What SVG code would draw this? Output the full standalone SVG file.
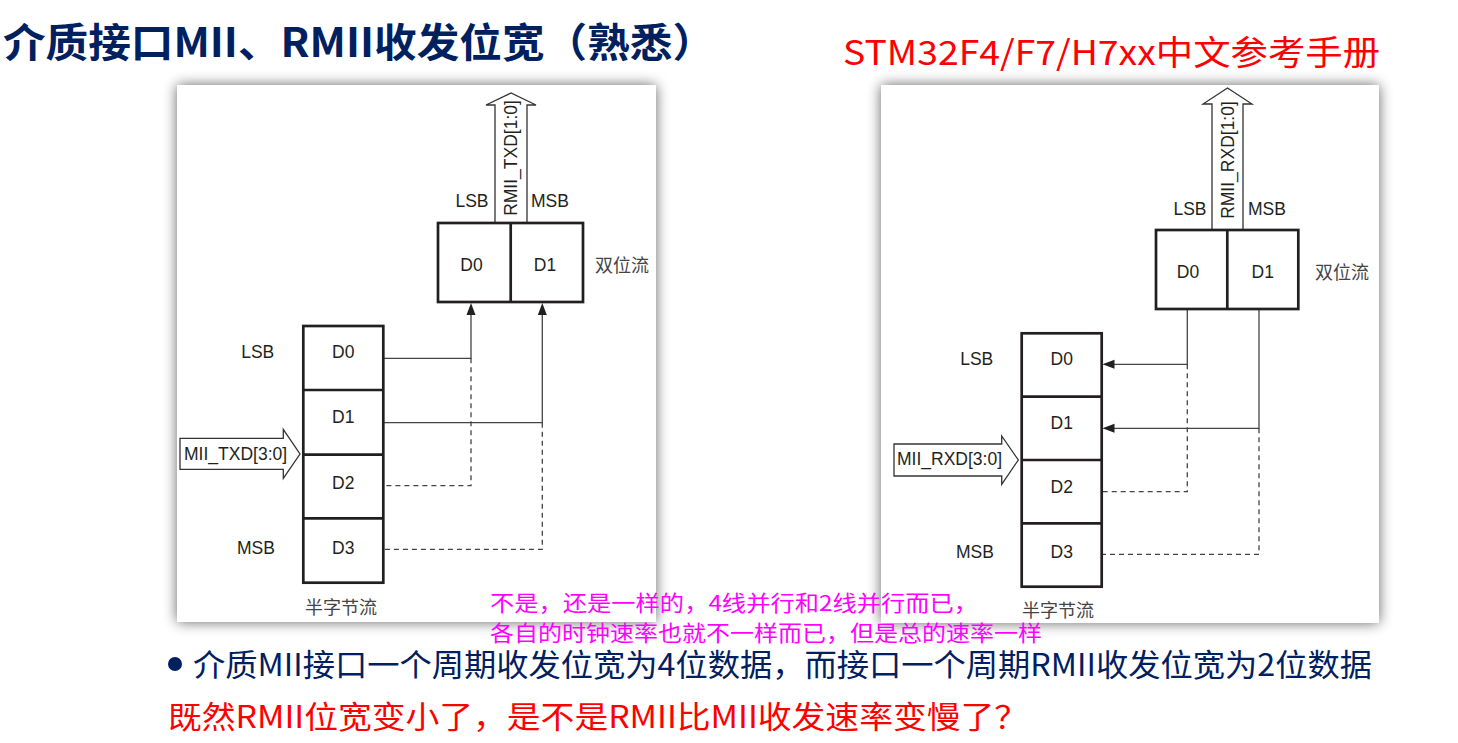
<svg xmlns="http://www.w3.org/2000/svg" width="1458" height="743" viewBox="0 0 1458 743">
<defs>
<filter id="sh" x="-10%" y="-10%" width="120%" height="120%"><feGaussianBlur stdDeviation="7"/></filter>
<style>
.t{font-family:"Liberation Sans",Arial,sans-serif;font-size:17.5px;fill:#231f20}
.m{text-anchor:middle}
.cn{font-family:"Noto Sans CJK SC",sans-serif;font-size:18px;fill:#444}
.box{fill:none;stroke:#231f20;stroke-width:2.7}
.ln{fill:none;stroke:#444;stroke-width:1.3}
.dash{fill:none;stroke:#444;stroke-width:1.3;stroke-dasharray:5 4}
.hollow{fill:#fff;stroke:#333;stroke-width:1.3}
.ah{fill:#231f20}
.pk{font-family:"Noto Sans CJK SC",sans-serif;font-size:21.5px;fill:#ff00ff}
</style>
</defs>
<rect width="1458" height="743" fill="#fff"/>
<g id="panels">
<rect x="177" y="85" width="479" height="537" fill="#000" opacity="0.6" filter="url(#sh)"/>
<rect x="177" y="85" width="479" height="537" fill="#fff"/>
<rect x="881" y="85" width="498" height="538" fill="#000" opacity="0.6" filter="url(#sh)"/>
<rect x="881" y="85" width="498" height="538" fill="#fff"/>
</g>
<g id="title">
<text x="3" y="57" font-family="'Noto Sans CJK SC',sans-serif" font-weight="bold" font-size="40" fill="#002060" textLength="712" lengthAdjust="spacingAndGlyphs">介质接口MII、RMII收发位宽（熟悉）</text>
</g>
<g id="ref-title">
<text x="843" y="65" font-family="'Noto Sans CJK SC',sans-serif" font-size="34" fill="#ff0000" textLength="537" lengthAdjust="spacingAndGlyphs">STM32F4/F7/H7xx中文参考手册</text>
</g>
<g id="connectors">
<polyline class="ln" points="383.3,358.3 471,358.3 471,312"/>
<polygon class="ah" points="471,303 466.5,315 475.5,315"/>
<polyline class="dash" points="471,358.3 471,485.7 383.3,485.7"/>
<polyline class="ln" points="383.3,422.7 542.3,422.7 542.3,312"/>
<polygon class="ah" points="542.3,303 537.8,315 546.8,315"/>
<polyline class="dash" points="542.3,422.7 542.3,549.3 383.3,549.3"/>
<polyline class="ln" points="1187.3,309 1187.3,364.3 1112,364.3"/>
<polygon class="ah" points="1102.5,364.3 1114.5,359.8 1114.5,368.8"/>
<polyline class="dash" points="1187.3,364.3 1187.3,491.7 1101.7,491.7"/>
<polyline class="ln" points="1259,309 1259,428.3 1112,428.3"/>
<polygon class="ah" points="1102.5,428.3 1114.5,423.8 1114.5,432.8"/>
<polyline class="dash" points="1259,428.3 1259,554.3 1101.7,554.3"/>
</g>
<g id="rmii-txd">
<polygon class="hollow" points="495,223 495,105 486,105 511,93 536,105 527,105 527,223"/>
<text class="t m" transform="translate(517,158) rotate(-90)">RMII_TXD[1:0]</text>
<text class="t m" x="472" y="207">LSB</text>
<text class="t m" x="550" y="207">MSB</text>
</g>
<g id="tx-dibit">
<rect class="box" x="438" y="223" width="145" height="79"/>
<line class="box" x1="510.7" y1="223" x2="510.7" y2="302"/>
<text class="t m" x="471.5" y="271">D0</text>
<text class="t m" x="545" y="271">D1</text>
<text class="cn" x="595" y="272">双位流</text>
</g>
<g id="tx-nibble">
<rect class="box" x="303.3" y="326" width="80" height="256.7"/>
<line class="box" x1="303.3" y1="390" x2="383.3" y2="390"/>
<line class="box" x1="303.3" y1="454.7" x2="383.3" y2="454.7"/>
<line class="box" x1="303.3" y1="518.3" x2="383.3" y2="518.3"/>
<text class="t m" x="343.3" y="358">D0</text>
<text class="t m" x="343.3" y="422.7">D1</text>
<text class="t m" x="343.3" y="489">D2</text>
<text class="t m" x="343.3" y="554">D3</text>
<text class="t m" x="257.7" y="358">LSB</text>
<text class="t m" x="256" y="554">MSB</text>
<text class="cn m" x="341" y="614">半字节流</text>
</g>
<g id="mii-txd">
<polygon class="hollow" points="180,438.3 283.3,438.3 283.3,429.3 300,454 283.3,478.3 283.3,469.3 180,469.3"/>
<text class="t" x="184" y="460">MII_TXD[3:0]</text>
</g>
<g id="rmii-rxd">
<polygon class="hollow" points="1212,230 1212,104 1203,104 1227.5,88 1252,104 1243,104 1243,230"/>
<text class="t m" transform="translate(1234,160) rotate(-90)">RMII_RXD[1:0]</text>
<text class="t m" x="1190" y="215">LSB</text>
<text class="t m" x="1267" y="215">MSB</text>
</g>
<g id="rx-dibit">
<rect class="box" x="1156" y="230" width="142.3" height="79"/>
<line class="box" x1="1227.3" y1="230" x2="1227.3" y2="309"/>
<text class="t m" x="1188" y="278">D0</text>
<text class="t m" x="1262.7" y="278">D1</text>
<text class="cn" x="1315" y="279">双位流</text>
</g>
<g id="rx-nibble">
<rect class="box" x="1021.7" y="333.3" width="80" height="253.4"/>
<line class="box" x1="1021.7" y1="396.7" x2="1101.7" y2="396.7"/>
<line class="box" x1="1021.7" y1="460" x2="1101.7" y2="460"/>
<line class="box" x1="1021.7" y1="523.3" x2="1101.7" y2="523.3"/>
<text class="t m" x="1061.7" y="365">D0</text>
<text class="t m" x="1061.7" y="429.3">D1</text>
<text class="t m" x="1061.7" y="493.3">D2</text>
<text class="t m" x="1061.7" y="558.3">D3</text>
<text class="t m" x="976.7" y="365">LSB</text>
<text class="t m" x="975" y="558">MSB</text>
<text class="cn m" x="1058" y="617">半字节流</text>
</g>
<g id="mii-rxd">
<polygon class="hollow" points="894,444 1001.7,444 1001.7,436 1018.3,460 1001.7,484.3 1001.7,476 894,476"/>
<text class="t" x="897" y="465">MII_RXD[3:0]</text>
</g>
<g id="note">
<text class="pk" x="490" y="611" textLength="488" lengthAdjust="spacingAndGlyphs">不是，还是一样的，4线并行和2线并行而已，</text>
<text class="pk" x="490" y="641" textLength="552" lengthAdjust="spacingAndGlyphs">各自的时钟速率也就不一样而已，但是总的速率一样</text>
</g>
<g id="bullet">
<circle cx="175" cy="664" r="7" fill="#002060"/>
<text x="193" y="676" font-family="'Noto Sans CJK SC',sans-serif" font-size="31" fill="#002060" textLength="1179" lengthAdjust="spacingAndGlyphs">介质MII接口一个周期收发位宽为4位数据，而接口一个周期RMII收发位宽为2位数据</text>
</g>
<g id="question">
<text x="168" y="728" font-family="'Noto Sans CJK SC',sans-serif" font-size="31" fill="#ff0000" textLength="860" lengthAdjust="spacingAndGlyphs">既然RMII位宽变小了，是不是RMII比MII收发速率变慢了？</text>
</g>
</svg>
